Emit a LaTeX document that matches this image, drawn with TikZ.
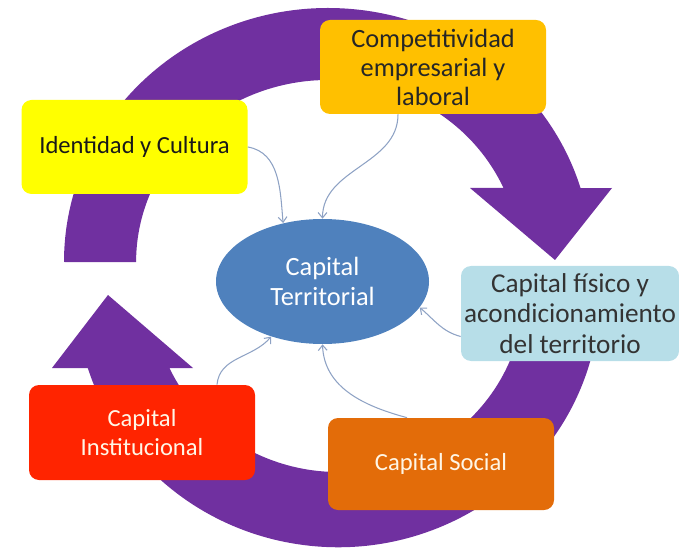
\documentclass[tikz,border=0pt]{standalone}
\usepackage{fontspec}
\setmainfont{Carlito}
\usetikzlibrary{positioning,shapes.geometric,arrows.meta}
\definecolor{ringpurple}{HTML}{7030A0}
\definecolor{linkgray}{HTML}{8EA2C4}
\definecolor{compfill}{HTML}{FFC000}
\definecolor{identfill}{HTML}{FFFF00}
\definecolor{terrfill}{HTML}{4F81BD}
\definecolor{fisfill}{HTML}{B7DEE8}
\definecolor{instfill}{HTML}{FF2400}
\definecolor{socialfill}{HTML}{E36C09}
\definecolor{paletext}{HTML}{FFF6E6}

\begin{document}
\begin{tikzpicture}[
        box/.style={rounded corners=0.2cm, minimum width=4.52cm, minimum height=1.88cm,
            inner sep=0pt, align=center, font=\fontsize{14}{17}\selectfont},
        link/.style={draw=linkgray, line width=0.6pt, -{Straight Barb[length=3pt,width=5pt]}},
        ring/.style={fill=ringpurple}
    ]
                \useasboundingbox (0,0) rectangle (13.58,-10.98);

                %Arrows
                \fill[ring] (1.28,-5.24) arc[start angle=180, end angle=16.9, x radius=5.28, y radius=5.08]
                    -- (12.24,-3.76) -- (11.1,-5.2) -- (9.4,-3.76)
                    -- (10.07,-3.76) arc[start angle=24, end angle=180, x radius=3.84, y radius=3.64] -- cycle;
                \fill[ring] (11.92,-6.73) arc[start angle=-10, end angle=-162.7, x radius=5.24, y radius=5.1]
                    -- (1.04,-7.36) -- (2.16,-5.9) -- (3.86,-7.36)
                    -- (3.389,-7.361) arc[start angle=-155, end angle=-10, x radius=3.72, y radius=3.6] -- cycle;

                %Nodes
                \node[box, fill=compfill, text=black!85, font=\fontsize{15}{16.5}\selectfont]
                    at (8.66,-1.34)  (comp)   {Competitividad\\ empresarial y\\ laboral};
                \node[box, fill=identfill, text=black!90]
                    at (2.69,-2.94)  (ident)  {Identidad y Cultura};
                \node[ellipse, fill=terrfill, text=white, minimum width=4.26cm, minimum height=2.5cm,
                    inner sep=0pt, align=center, font=\fontsize{15}{17.5}\selectfont]
                    at (6.45,-5.63)  (terr)   {Capital\\ Territorial};
                \node[box, fill=fisfill, text=black!80, minimum width=4.36cm, minimum height=1.9cm,
                    font=\fontsize{15.5}{17.5}\selectfont]
                    at (11.4,-6.27)  (fis)    {Capital físico y\\ acondicionamiento\\ del territorio};
                \node[box, fill=instfill, text=paletext, minimum height=1.9cm]
                    at (2.84,-8.65)  (inst)   {Capital\\ Institucional};
                \node[box, fill=socialfill, text=paletext, minimum height=1.84cm]
                    at (8.82,-9.28)  (social) {Capital Social};

                %Lines
                \draw[link] (ident.east) to[out=-10, in=95] (terr.124);
                \draw[link] ([xshift=-0.7cm]comp.south) to[out=-90, in=90] (terr.north);
                \draw[link] ([yshift=-0.46cm]fis.west) to[out=165, in=-40] (terr.-15);
                \draw[link] ([xshift=-0.68cm]social.north) to[out=165, in=-88] (terr.south);
                \draw[link] ([xshift=1.5cm]inst.north) to[out=85, in=-130] (terr.-133);
            \end{tikzpicture}
\end{document}
